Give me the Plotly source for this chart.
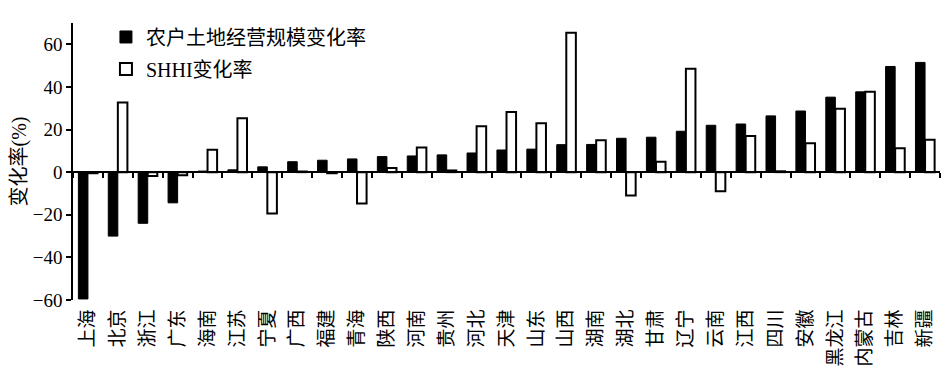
import plotly.graph_objects as go

provinces = ["上海", "北京", "浙江", "广东", "海南", "江苏", "宁夏", "广西", "福建", "青海",
             "陕西", "河南", "贵州", "河北", "天津", "山东", "山西", "湖南", "湖北", "甘肃",
             "辽宁", "云南", "江西", "四川", "安徽", "黑龙江", "内蒙古", "吉林", "新疆"]

scale_change = [-59.5, -30.0, -24.0, -14.4, 0.5, 1.1, 2.5, 4.9, 5.6, 6.2,
                7.3, 7.6, 8.1, 9.0, 10.4, 10.8, 12.9, 13.0, 15.9, 16.4,
                19.2, 22.0, 22.6, 26.4, 28.7, 35.2, 37.7, 49.6, 51.5]

shhi_change = [-0.5, 32.7, -1.8, -1.5, 10.5, 25.3, -19.4, 0.3, -0.5, -14.7,
               2.0, 11.6, 0.8, 21.5, 28.2, 22.9, 65.4, 15.0, -10.9, 4.9,
               48.5, -9.0, 17.0, 0.4, 13.6, 29.8, 37.7, 11.2, 15.2]

y_ticks = [-60, -40, -20, 0, 20, 40, 60]
y_range = [-60, 70]

name_scale = "农户土地经营规模变化率"
name_shhi = "SHHI变化率"
y_title = "变化率(%)"

FONT = "Liberation Serif, Noto Sans CJK SC, serif"

fig = go.Figure()
fig.add_trace(go.Bar(
    x=provinces, y=scale_change, name=name_scale, legendgroup="a",
    marker=dict(color="black", line=dict(color="black", width=1)),
))
fig.add_trace(go.Bar(
    x=provinces, y=shhi_change, name=name_shhi, legendgroup="b",
    marker=dict(color="white", line=dict(color="black", width=2)),
))

zero_pos = (0 - y_range[0]) / (y_range[1] - y_range[0])

# page body has an 8px default margin; figure is sized to fit the 949x382 window
fig.update_layout(
    template="none",
    width=941, height=374,
    margin=dict(l=65, r=9, t=9, b=82, pad=0),
    paper_bgcolor="white", plot_bgcolor="white",
    font=dict(family=FONT, size=19, color="black"),
    barmode="group", bargap=0.36, bargroupgap=0,
    showlegend=True,
    legend=dict(x=0.038, y=1.02, xanchor="left", yanchor="top",
                bgcolor="rgba(0,0,0,0)", borderwidth=0,
                traceorder="grouped", tracegroupgap=3,
                font=dict(family=FONT, size=20, color="black")),
    xaxis=dict(
        type="category", anchor="free", position=zero_pos,
        range=[-0.5, len(provinces) - 0.5], autorange=False,
        showline=True, linecolor="black", linewidth=1.5,
        ticks="outside", ticklen=5, tickwidth=1.5, tickcolor="black",
        tickson="boundaries", tickangle=-90,
        ticklabelstandoff=129,
        tickfont=dict(family="Noto Sans CJK SC", size=19, color="black"),
        showgrid=False, zeroline=False, automargin=False,
    ),
    yaxis=dict(
        range=y_range, tickvals=y_ticks,
        showline=True, linecolor="black", linewidth=1.5,
        ticks="outside", ticklen=5, tickwidth=1.5, tickcolor="black",
        tickfont=dict(family=FONT, size=19, color="black"),
        title=dict(text=y_title, standoff=3,
                   font=dict(family=FONT, size=20, color="black")),
        showgrid=False, zeroline=False, automargin=False,
    ),
)

fig.write_html("out.html")
